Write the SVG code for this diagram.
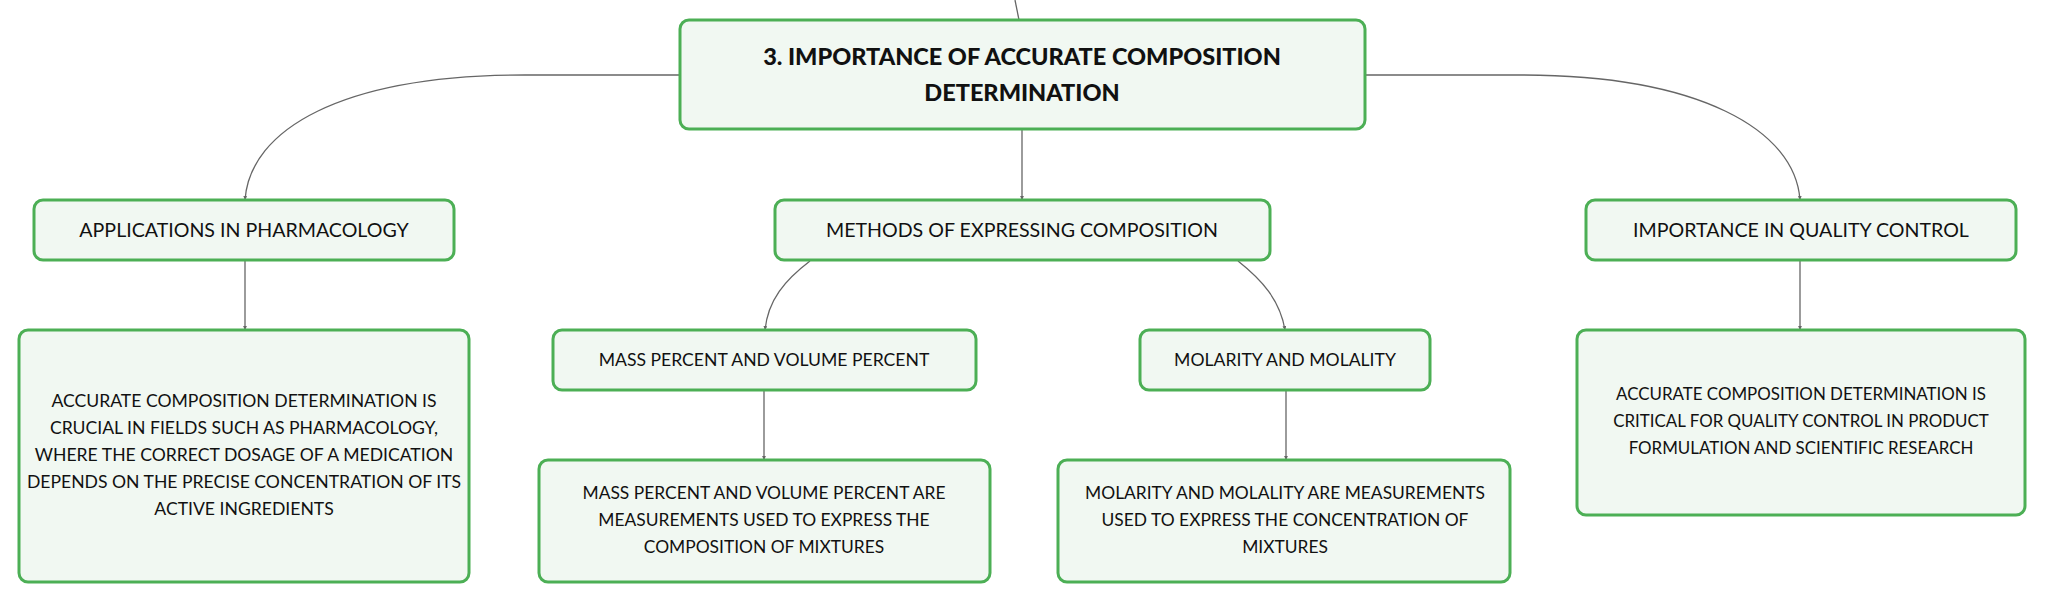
<svg xmlns="http://www.w3.org/2000/svg" width="2046" height="602" viewBox="0 0 2046 602">
<style>
.box{fill:#f1f8f2;stroke:#4caf55;stroke-width:3}
.t{font-family:Lato,"Open Sans",sans-serif;fill:#111;text-anchor:middle}
.title{font-size:23.5px;font-weight:900}
.lbl{font-size:19.6px}
.sub{font-size:17.6px}
.d1{font-size:17.6px}
.d2{font-size:17.4px}
.d3{font-size:16.9px}
.c{fill:none;stroke:#666;stroke-width:1.3}
</style>
<defs>
<marker id="a" viewBox="0 0 6 6" refX="6" refY="3" markerWidth="3" markerHeight="3" orient="auto"><path d="M0,0 L6,3 L0,6 z" fill="#666"/></marker>
</defs>
<rect width="2046" height="602" fill="#fff"/>
<g id="connectors">
<path class="c" d="M1015,0 L1019,20"/>
<path class="c" d="M680,75 H525 C340,75 250,130 245,200" marker-end="url(#a)"/>
<path class="c" d="M1365,75 H1520 C1700,75 1795,130 1800,200" marker-end="url(#a)"/>
<path class="c" d="M1022,129 V200" marker-end="url(#a)"/>
<path class="c" d="M245,260 V330" marker-end="url(#a)"/>
<path class="c" d="M1800,260 V330" marker-end="url(#a)"/>
<path class="c" d="M810,261 C785,280 768,300 765,330" marker-end="url(#a)"/>
<path class="c" d="M1238,261 C1262,280 1280,300 1285,330" marker-end="url(#a)"/>
<path class="c" d="M764,390 V460" marker-end="url(#a)"/>
<path class="c" d="M1286,390 V460" marker-end="url(#a)"/>
</g>
<g id="main">
<rect class="box" x="680" y="20" width="685" height="109" rx="9"/>
<text class="t title" x="1022" y="65">3. IMPORTANCE OF ACCURATE COMPOSITION</text>
<text class="t title" x="1022" y="101">DETERMINATION</text>
</g>
<g id="applications">
<rect class="box" x="34" y="200" width="420" height="60" rx="9"/>
<text class="t lbl" x="244" y="237">APPLICATIONS IN PHARMACOLOGY</text>
</g>
<g id="methods">
<rect class="box" x="775" y="200" width="495" height="60" rx="9"/>
<text class="t lbl" x="1022" y="237">METHODS OF EXPRESSING COMPOSITION</text>
</g>
<g id="quality">
<rect class="box" x="1586" y="200" width="430" height="60" rx="9"/>
<text class="t lbl" x="1801" y="237">IMPORTANCE IN QUALITY CONTROL</text>
</g>
<g id="applications-desc">
<rect class="box" x="19" y="330" width="450" height="252" rx="9"/>
<text class="t d1" x="244" y="407">ACCURATE COMPOSITION DETERMINATION IS</text>
<text class="t d1" x="244" y="434">CRUCIAL IN FIELDS SUCH AS PHARMACOLOGY,</text>
<text class="t d1" x="244" y="461">WHERE THE CORRECT DOSAGE OF A MEDICATION</text>
<text class="t d1" x="244" y="488">DEPENDS ON THE PRECISE CONCENTRATION OF ITS</text>
<text class="t d1" x="244" y="515">ACTIVE INGREDIENTS</text>
</g>
<g id="mass">
<rect class="box" x="553" y="330" width="423" height="60" rx="9"/>
<text class="t sub" x="764" y="366">MASS PERCENT AND VOLUME PERCENT</text>
</g>
<g id="molarity">
<rect class="box" x="1140" y="330" width="290" height="60" rx="9"/>
<text class="t sub" x="1285" y="366">MOLARITY AND MOLALITY</text>
</g>
<g id="mass-desc">
<rect class="box" x="539" y="460" width="451" height="122" rx="9"/>
<text class="t d2" x="764" y="499">MASS PERCENT AND VOLUME PERCENT ARE</text>
<text class="t d2" x="764" y="526">MEASUREMENTS USED TO EXPRESS THE</text>
<text class="t d2" x="764" y="553">COMPOSITION OF MIXTURES</text>
</g>
<g id="molarity-desc">
<rect class="box" x="1058" y="460" width="452" height="122" rx="9"/>
<text class="t d2" x="1285" y="499">MOLARITY AND MOLALITY ARE MEASUREMENTS</text>
<text class="t d2" x="1285" y="526">USED TO EXPRESS THE CONCENTRATION OF</text>
<text class="t d2" x="1285" y="553">MIXTURES</text>
</g>
<g id="quality-desc">
<rect class="box" x="1577" y="330" width="448" height="185" rx="9"/>
<text class="t d3" x="1801" y="400">ACCURATE COMPOSITION DETERMINATION IS</text>
<text class="t d3" x="1801" y="427">CRITICAL FOR QUALITY CONTROL IN PRODUCT</text>
<text class="t d3" x="1801" y="454">FORMULATION AND SCIENTIFIC RESEARCH</text>
</g>
</svg>
